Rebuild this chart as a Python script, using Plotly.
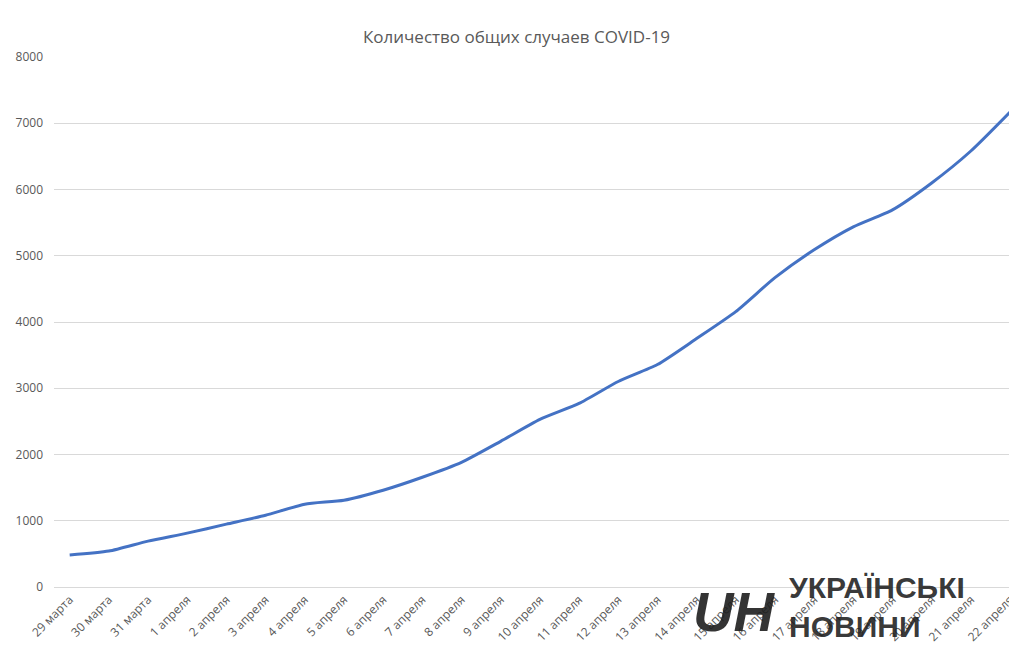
import plotly.graph_objects as go

# dates and total case counts
dates = ["29 марта", "30 марта", "31 марта"] + [f"{d} апреля" for d in range(1, 23)]
cases = [482, 542, 693, 813, 949, 1084, 1250, 1310, 1461, 1657, 1882, 2199, 2530,
         2771, 3102, 3358, 3750, 4157, 4669, 5090, 5437, 5693, 6099, 6581, 7169]

fig = go.Figure()
fig.add_trace(go.Scatter(x=dates, y=cases, mode="lines",
                         line=dict(color="#4472C4", width=3, shape="spline", smoothing=0.6)))

fig.update_layout(
    width=1017, height=664,
    margin=dict(l=45, r=8, t=49, b=85),
    paper_bgcolor="white", plot_bgcolor="white",
    title=dict(text="Количество общих случаев COVID-19", x=0.5, y=0.965,
               font=dict(family="Open Sans", size=17, color="#595959")),
    font=dict(family="Open Sans", color="#595959", size=12),
    showlegend=False,
)
fig.update_xaxes(tickangle=-45, showgrid=False, showline=True, linecolor="#d9d9d9",
                 range=[-0.4, 24.05], tickfont=dict(size=12))
fig.update_yaxes(range=[0, 8000], dtick=1000, gridcolor="#d9d9d9", zeroline=False,
                 tickfont=dict(size=12), ticklabelstandoff=10)

# watermark logo as text
fig.add_annotation(x=0.765, y=-0.11, xref="paper", yref="paper", xanchor="left", yanchor="bottom",
                   text="<b>УКРАЇНСЬКІ<br>НОВИНИ</b>", showarrow=False, align="left",
                   font=dict(family="Liberation Sans", size=30, color="rgba(30,30,30,0.9)"))
fig.add_annotation(x=0.665, y=-0.11, xref="paper", yref="paper", xanchor="left", yanchor="bottom",
                   text="<b><i>UН</i></b>", showarrow=False,
                   font=dict(family="Liberation Sans", size=56, color="rgba(30,30,30,0.9)"))

fig.write_html("out.html")
